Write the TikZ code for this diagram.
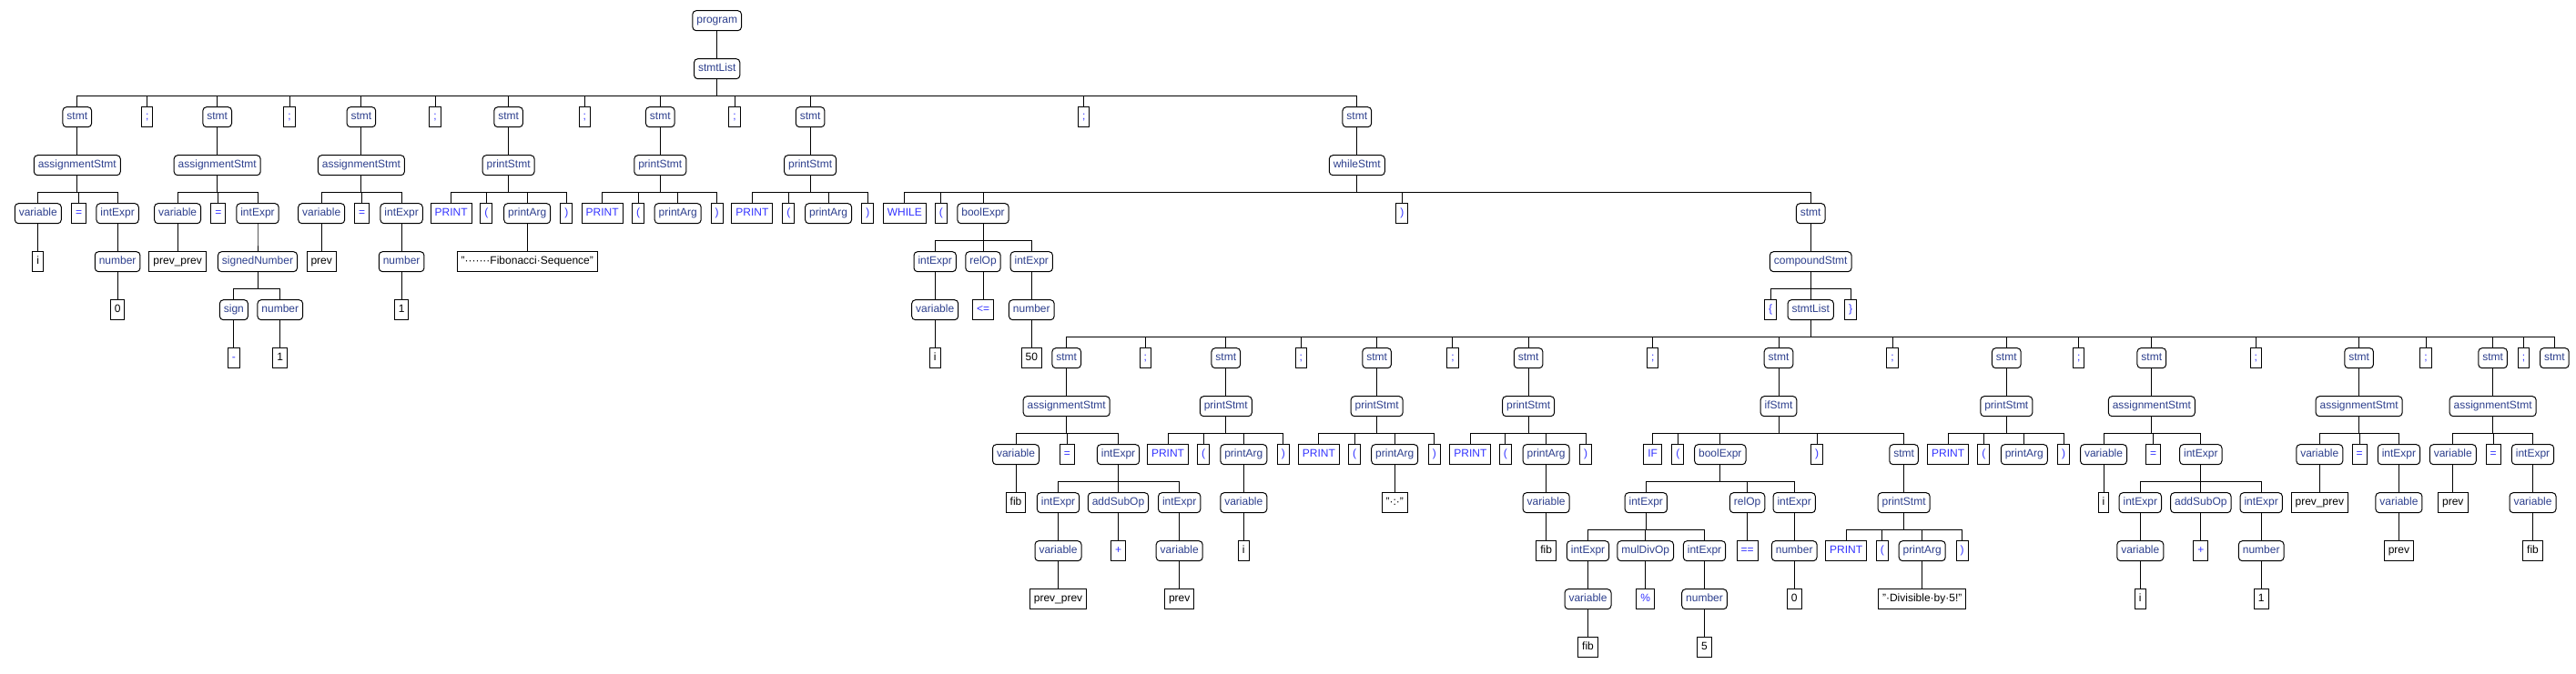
\documentclass[tikz,border=0pt]{standalone}
\usepackage{fontspec}
\setmainfont{Liberation Sans}
\usetikzlibrary{positioning}
\definecolor{rulecolor}{RGB}{44,62,140}
\definecolor{tokencolor}{RGB}{51,51,255}

\begin{document}
\begin{tikzpicture}[
    x=1pt, y=-53pt,
    node distance=31pt,
    every node/.style={font=\fontsize{12}{14}\selectfont, draw=black, line width=1pt, minimum height=22pt, inner xsep=4.5pt, inner ysep=3pt, text height=9pt, text depth=3pt, outer sep=0pt},
    rule/.style={rounded corners=4pt, text=rulecolor},
    token/.style={text=tokencolor},
    leaf/.style={text=black},
    every edge/.style={draw, line width=0.9pt, to path={(\tikztostart.south) -- ++(0,-18.3pt) -| (\tikztotarget.north)}}
]
\useasboundingbox (0,-0.4283) rectangle (2830,13.5528);

% Root
\node[rule] (prog) at (787.7,0) {program};
\node[rule, below=of prog] (top) {stmtList};

% Top-level statements
\node[rule] (st1) at (84.8,2) {stmt};
\node[token] (sc1) at (161.8,2) {;};
\node[rule] (st2) at (238.7,2) {stmt};
\node[token] (sc2) at (318.1,2) {;};
\node[rule] (st3) at (396.9,2) {stmt};
\node[token] (sc3) at (478.0,2) {;};
\node[rule] (st4) at (558.6,2) {stmt};
\node[token] (sc4) at (642.3,2) {;};
\node[rule] (st5) at (725.3,2) {stmt};
\node[token] (sc5) at (807.0,2) {;};
\node[rule] (st6) at (890.1,2) {stmt};
\node[token] (sc6) at (1190.8,2) {;};
\node[rule] (st7) at (1490.8,2) {stmt};

\node[rule, below=of st1] (as1) {assignmentStmt};
\node[rule, below=of st2] (as2) {assignmentStmt};
\node[rule, below=of st3] (as3) {assignmentStmt};
\node[rule, below=of st4] (pr1) {printStmt};
\node[rule, below=of st5] (pr2) {printStmt};
\node[rule, below=of st6] (pr3) {printStmt};
\node[rule, below=of st7] (wh) {whileStmt};

% i = 0
\node[rule] (va1) at (41.8,4) {variable};
\node[token] (eq1) at (86.6,4) {=};
\node[rule] (ie1) at (129.1,4) {intExpr};
\node[leaf, below=of va1] (id1) {i};
\node[rule, below=of ie1] (nu1) {number};
\node[leaf, below=of nu1] (zero) {0};

% prev_prev = -1
\node[rule] (va2) at (195.1,4) {variable};
\node[token] (eq2) at (239.9,4) {=};
\node[rule] (ie2) at (283.0,4) {intExpr};
\node[leaf, below=of va2] (id2) {prev\_prev};
\node[rule, below=of ie2] (sn) {signedNumber};
\node[rule] (sg) at (256.9,6) {sign};
\node[rule] (snn) at (307.8,6) {number};
\node[token, below=of sg] (minus) {-};
\node[leaf, below=of snn] (one2) {1};

% prev = 1
\node[rule] (va3) at (353.2,4) {variable};
\node[token] (eq3) at (397.5,4) {=};
\node[rule] (ie3) at (441.1,4) {intExpr};
\node[leaf, below=of va3] (id3) {prev};
\node[rule, below=of ie3] (nu3) {number};
\node[leaf, below=of nu3] (one3) {1};

% print statements
\node[token] (pk1) at (495.6,4) {PRINT};
\node[token] (lp1) at (534.4,4) {(};
\node[rule] (pa1) at (579.2,4) {printArg};
\node[token] (rp1) at (622.3,4) {)};
\node[leaf, below=of pa1] (str1) {"·······Fibonacci·Sequence"};
\node[token] (pk2) at (661.6,4) {PRINT};
\node[token] (lp2) at (701.0,4) {(};
\node[rule] (pa2) at (744.7,4) {printArg};
\node[token] (rp2) at (787.7,4) {)};
\node[token] (pk3) at (826.4,4) {PRINT};
\node[token] (lp3) at (866.4,4) {(};
\node[rule] (pa3) at (910.1,4) {printArg};
\node[token] (rp3) at (953.3,4) {)};

% while loop
\node[token] (wk) at (993.9,4) {WHILE};
\node[token] (wlp) at (1033.9,4) {(};
\node[rule] (be) at (1080.0,4) {boolExpr};
\node[token] (wrp) at (1540.4,4) {)};
\node[rule] (wst) at (1989.2,4) {stmt};
\node[rule] (bie1) at (1027.2,5) {intExpr};
\node[rule] (rop) at (1080.0,5) {relOp};
\node[rule] (bie2) at (1133.3,5) {intExpr};
\node[rule, below=of bie1] (bva) {variable};
\node[token, below=of rop] (le) {<=};
\node[rule, below=of bie2] (bnu) {number};
\node[leaf, below=of bva] (bi) {i};
\node[leaf, below=of bnu] (fifty) {50};
\node[rule, below=of wst] (cs) {compoundStmt};
\node[token] (lb) at (1945.2,6) {\{};
\node[rule] (sl) at (1989.2,6) {stmtList};
\node[token] (rb) at (2033.2,6) {\}};

% loop body
\node[rule] (t1) at (1171.7,7) {stmt};
\node[token] (c1) at (1258.4,7) {;};
\node[rule] (t2) at (1346.8,7) {stmt};
\node[token] (c2) at (1429.4,7) {;};
\node[rule] (t3) at (1512.6,7) {stmt};
\node[token] (c3) at (1595.9,7) {;};
\node[rule] (t4) at (1679.1,7) {stmt};
\node[token] (c4) at (1815.7,7) {;};
\node[rule] (t5) at (1954.0,7) {stmt};
\node[token] (c5) at (2079.1,7) {;};
\node[rule] (t6) at (2204.3,7) {stmt};
\node[token] (c6) at (2283.7,7) {;};
\node[rule] (t7) at (2363.8,7) {stmt};
\node[token] (c7) at (2478.3,7) {;};
\node[rule] (t8) at (2591.6,7) {stmt};
\node[token] (c8) at (2665.1,7) {;};
\node[rule] (t9) at (2738.6,7) {stmt};
\node[token] (c9) at (2772.4,7) {;};
\node[rule] (t10) at (2806.3,7) {stmt};

\node[rule, below=of t1] (ua1) {assignmentStmt};
\node[rule, below=of t2] (up2) {printStmt};
\node[rule, below=of t3] (up3) {printStmt};
\node[rule, below=of t4] (up4) {printStmt};
\node[rule, below=of t5] (ifs) {ifStmt};
\node[rule, below=of t6] (up6) {printStmt};
\node[rule, below=of t7] (ua7) {assignmentStmt};
\node[rule, below=of t8] (ua8) {assignmentStmt};
\node[rule, below=of t9] (ua9) {assignmentStmt};

% fib = prev_prev + prev
\node[rule] (uva1) at (1116.0,9) {variable};
\node[token] (ueq1) at (1172.3,9) {=};
\node[rule] (uie1) at (1228.5,9) {intExpr};
\node[leaf, below=of uva1] (fib1) {fib};
\node[rule] (xa) at (1162.5,10) {intExpr};
\node[rule] (xop) at (1228.5,10) {addSubOp};
\node[rule] (xb) at (1295.7,10) {intExpr};
\node[rule, below=of xa] (xva) {variable};
\node[token, below=of xop] (plus1) {+};
\node[rule, below=of xb] (xvb) {variable};
\node[leaf, below=of xva] (ppx) {prev\_prev};
\node[leaf, below=of xvb] (pvx) {prev};

% print i, ": ", fib
\node[token] (upk2) at (1283.0,9) {PRINT};
\node[token] (ulp2) at (1322.1,9) {(};
\node[rule] (upa2) at (1366.3,9) {printArg};
\node[token] (urp2) at (1409.9,9) {)};
\node[rule, below=of upa2] (vv2) {variable};
\node[leaf, below=of vv2] (i2) {i};
\node[token] (upk3) at (1448.9,9) {PRINT};
\node[token] (ulp3) at (1488.0,9) {(};
\node[rule] (upa3) at (1532.2,9) {printArg};
\node[token] (urp3) at (1575.8,9) {)};
\node[leaf, below=of upa3] (str2) {"·:·"};
\node[token] (upk4) at (1615.4,9) {PRINT};
\node[token] (ulp4) at (1653.8,9) {(};
\node[rule] (upa4) at (1698.6,9) {printArg};
\node[token] (urp4) at (1742.2,9) {)};
\node[rule, below=of upa4] (vv4) {variable};
\node[leaf, below=of vv4] (fib4) {fib};

% if fib % 5 == 0
\node[token] (ik) at (1815.7,9) {IF};
\node[token] (ilp) at (1843.3,9) {(};
\node[rule] (ibe) at (1889.8,9) {boolExpr};
\node[token] (irp) at (1996.1,9) {)};
\node[rule] (ist) at (2091.6,9) {stmt};
\node[rule] (iie1) at (1808.3,10) {intExpr};
\node[rule] (irop) at (1919.6,10) {relOp};
\node[rule] (iie2) at (1971.2,10) {intExpr};
\node[rule] (ma) at (1744.5,11) {intExpr};
\node[rule] (mop) at (1807.7,11) {mulDivOp};
\node[rule] (mb) at (1872.5,11) {intExpr};
\node[rule, below=of ma] (mva) {variable};
\node[token, below=of mop] (pct) {\%};
\node[rule, below=of mb] (mnu) {number};
\node[leaf, below=of mva] (fibm) {fib};
\node[leaf, below=of mnu] (five) {5};
\node[token, below=of irop] (eqeq) {==};
\node[rule, below=of iie2] (inu) {number};
\node[leaf, below=of inu] (zero2) {0};
\node[rule, below=of ist] (ips) {printStmt};
\node[token] (ipk) at (2028.1,11) {PRINT};
\node[token] (ilp2) at (2067.8,11) {(};
\node[rule] (ipa) at (2111.7,11) {printArg};
\node[token] (irp2) at (2155.6,11) {)};
\node[leaf, below=of ipa] (str3) {"·Divisible·by·5!"};

% print fib
\node[token] (upk6) at (2140.2,9) {PRINT};
\node[token] (ulp6) at (2179.3,9) {(};
\node[rule] (upa6) at (2223.8,9) {printArg};
\node[token] (urp6) at (2267.1,9) {)};

% i = i + 1
\node[rule] (uva7) at (2311.0,9) {variable};
\node[token] (ueq7) at (2365.6,9) {=};
\node[rule] (uie7) at (2417.8,9) {intExpr};
\node[leaf, below=of uva7] (ii7) {i};
\node[rule] (ya) at (2351.3,10) {intExpr};
\node[rule] (yop) at (2417.8,10) {addSubOp};
\node[rule] (yb) at (2484.2,10) {intExpr};
\node[rule, below=of ya] (yva) {variable};
\node[token, below=of yop] (plus2) {+};
\node[rule, below=of yb] (ynu) {number};
\node[leaf, below=of yva] (iy) {i};
\node[leaf, below=of ynu] (oney) {1};

% prev_prev = prev
\node[rule] (uva8) at (2548.3,9) {variable};
\node[token] (ueq8) at (2592.2,9) {=};
\node[rule] (uie8) at (2635.4,9) {intExpr};
\node[leaf, below=of uva8] (pp8) {prev\_prev};
\node[rule, below=of uie8] (vv8) {variable};
\node[leaf, below=of vv8] (pv8) {prev};

% prev = fib
\node[rule] (uva9) at (2694.8,9) {variable};
\node[token] (ueq9) at (2739.2,9) {=};
\node[rule] (uie9) at (2782.5,9) {intExpr};
\node[leaf, below=of uva9] (pv9) {prev};
\node[rule, below=of uie9] (vv9) {variable};
\node[leaf, below=of vv9] (fib9) {fib};

% Tree edges
\path (prog) edge (top);
\path (top) edge (st1) edge (sc1) edge (st2) edge (sc2) edge (st3) edge (sc3) edge (st4) edge (sc4) edge (st5) edge (sc5) edge (st6) edge (sc6) edge (st7);
\path (st1) edge (as1) (st2) edge (as2) (st3) edge (as3) (st4) edge (pr1) (st5) edge (pr2) (st6) edge (pr3) (st7) edge (wh);
\path (as1) edge (va1) edge (eq1) edge (ie1);
\path (va1) edge (id1) (ie1) edge (nu1) (nu1) edge (zero);
\path (as2) edge (va2) edge (eq2) edge (ie2);
\path (va2) edge (id2) (ie2) edge (sn);
\path (sn) edge (sg) edge (snn);
\path (sg) edge (minus) (snn) edge (one2);
\path (as3) edge (va3) edge (eq3) edge (ie3);
\path (va3) edge (id3) (ie3) edge (nu3) (nu3) edge (one3);
\path (pr1) edge (pk1) edge (lp1) edge (pa1) edge (rp1);
\path (pa1) edge (str1);
\path (pr2) edge (pk2) edge (lp2) edge (pa2) edge (rp2);
\path (pr3) edge (pk3) edge (lp3) edge (pa3) edge (rp3);
\path (wh) edge (wk) edge (wlp) edge (be) edge (wrp) edge (wst);
\path (be) edge (bie1) edge (rop) edge (bie2);
\path (bie1) edge (bva) (bva) edge (bi) (rop) edge (le) (bie2) edge (bnu) (bnu) edge (fifty);
\path (wst) edge (cs);
\path (cs) edge (lb) edge (sl) edge (rb);
\path (sl) edge (t1) edge (c1) edge (t2) edge (c2) edge (t3) edge (c3) edge (t4) edge (c4) edge (t5) edge (c5) edge (t6) edge (c6) edge (t7) edge (c7) edge (t8) edge (c8) edge (t9) edge (c9) edge (t10);
\path (t1) edge (ua1) (t2) edge (up2) (t3) edge (up3) (t4) edge (up4) (t5) edge (ifs) (t6) edge (up6) (t7) edge (ua7) (t8) edge (ua8) (t9) edge (ua9);
\path (ua1) edge (uva1) edge (ueq1) edge (uie1);
\path (uva1) edge (fib1);
\path (uie1) edge (xa) edge (xop) edge (xb);
\path (xa) edge (xva) (xva) edge (ppx) (xop) edge (plus1) (xb) edge (xvb) (xvb) edge (pvx);
\path (up2) edge (upk2) edge (ulp2) edge (upa2) edge (urp2);
\path (upa2) edge (vv2) (vv2) edge (i2);
\path (up3) edge (upk3) edge (ulp3) edge (upa3) edge (urp3);
\path (upa3) edge (str2);
\path (up4) edge (upk4) edge (ulp4) edge (upa4) edge (urp4);
\path (upa4) edge (vv4) (vv4) edge (fib4);
\path (ifs) edge (ik) edge (ilp) edge (ibe) edge (irp) edge (ist);
\path (ibe) edge (iie1) edge (irop) edge (iie2);
\path (iie1) edge (ma) edge (mop) edge (mb);
\path (ma) edge (mva) (mva) edge (fibm) (mop) edge (pct) (mb) edge (mnu) (mnu) edge (five);
\path (irop) edge (eqeq) (iie2) edge (inu) (inu) edge (zero2);
\path (ist) edge (ips);
\path (ips) edge (ipk) edge (ilp2) edge (ipa) edge (irp2);
\path (ipa) edge (str3);
\path (up6) edge (upk6) edge (ulp6) edge (upa6) edge (urp6);
\path (ua7) edge (uva7) edge (ueq7) edge (uie7);
\path (uva7) edge (ii7);
\path (uie7) edge (ya) edge (yop) edge (yb);
\path (ya) edge (yva) (yva) edge (iy) (yop) edge (plus2) (yb) edge (ynu) (ynu) edge (oney);
\path (ua8) edge (uva8) edge (ueq8) edge (uie8);
\path (uva8) edge (pp8) (uie8) edge (vv8) (vv8) edge (pv8);
\path (ua9) edge (uva9) edge (ueq9) edge (uie9);
\path (uva9) edge (pv9) (uie9) edge (vv9) (vv9) edge (fib9);

\end{tikzpicture}
\end{document}
